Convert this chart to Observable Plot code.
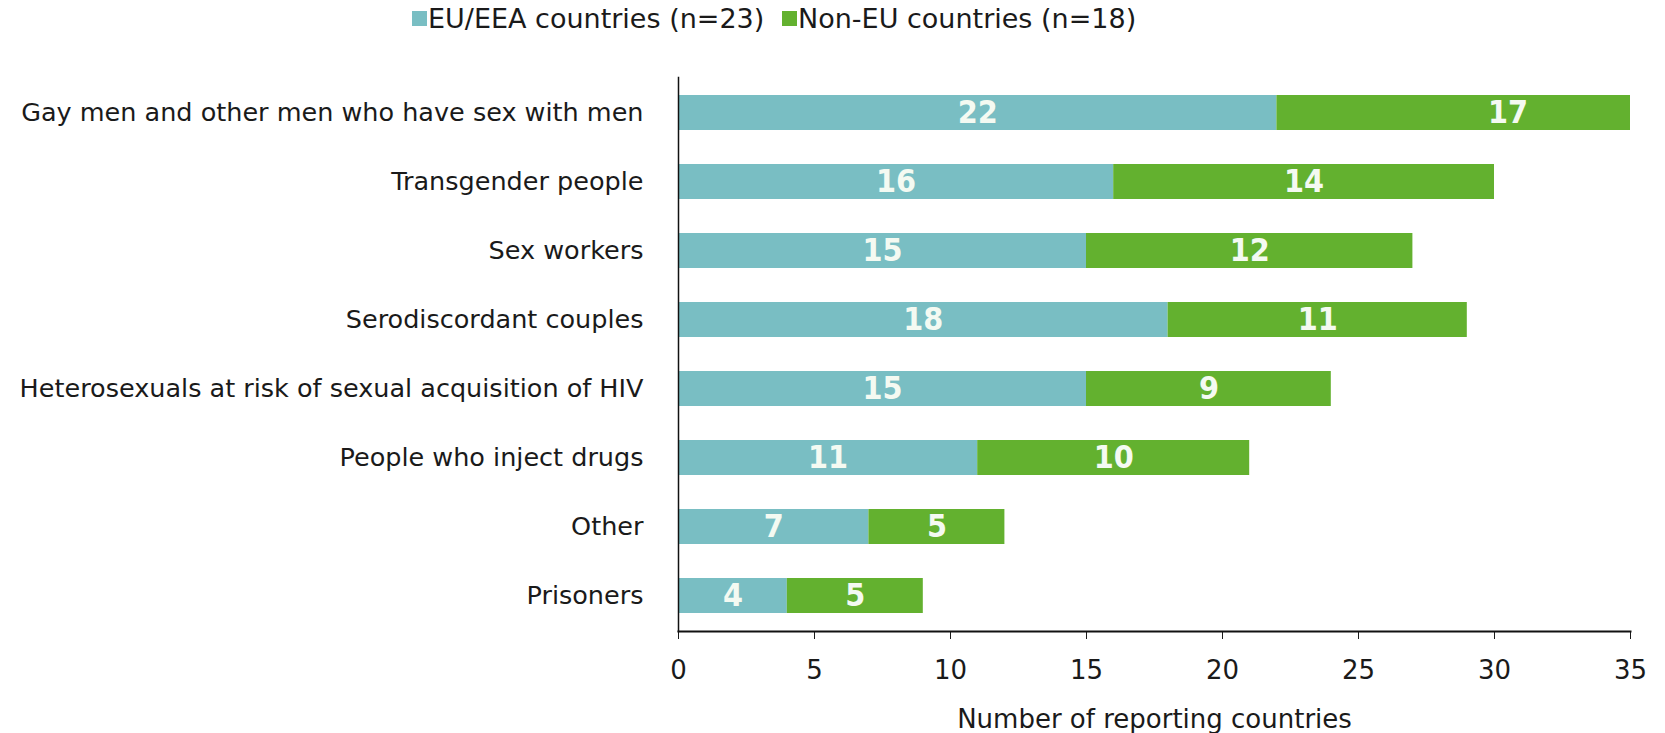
<!DOCTYPE html>
<html><head><meta charset="utf-8">
<script src="https://cdn.jsdelivr.net/npm/d3@7"></script>
<script src="https://cdn.jsdelivr.net/npm/@observablehq/plot@0.6"></script>
<style>
body{margin:0;background:#fff;font-family:"DejaVu Sans",sans-serif;}
#legend{position:relative;height:40px;width:1665px;font-size:27px;color:#1a1a1a;}
.item{position:absolute;top:3px;display:flex;align-items:center;white-space:nowrap;}
.sw{width:15px;height:15px;margin-right:1px;}
</style></head><body>
<div id="legend"></div><div id="chart"></div>
<script>
const categories = ["Gay men and other men who have sex with men","Transgender people","Sex workers","Serodiscordant couples","Heterosexuals at risk of sexual acquisition of HIV","People who inject drugs","Other","Prisoners"];
const euValues = [22,16,15,18,15,11,7,4];
const nonEuValues = [17,14,12,11,9,10,5,5];
const seriesNames = ["EU/EEA countries (n=23)","Non-EU countries (n=18)"];
const seriesColors = ["#79bec3","#63b12f"];
const xTicks = [0,5,10,15,20,25,30,35];
const xLabel = "Number of reporting countries";

const data = categories.flatMap((c,i)=>[
  {category:c, series:seriesNames[0], value:euValues[i]},
  {category:c, series:seriesNames[1], value:nonEuValues[i]}
]);

// legend
const lg = document.getElementById("legend");
const lefts = [412, 782];
seriesNames.forEach((s,i)=>{
  const d = document.createElement("div");
  d.className="item"; d.style.left=lefts[i]+"px";
  d.innerHTML = `<div class="sw" style="background:${seriesColors[i]}"></div><span>${s}</span>`;
  lg.appendChild(d);
});

const chart = Plot.plot({
  width:1665, height:693,
  marginLeft:678, marginRight:35, marginTop:37, marginBottom:102,
  style:{fontFamily:'"DejaVu Sans",sans-serif', fontSize:"25.5px", color:"#1a1a1a", background:"#fff"},
  x:{domain:[0,35]},
  y:{domain:categories, paddingInner:0.5, paddingOuter:0.25},
  color:{domain:seriesNames, range:seriesColors},
  marks:[
    Plot.barX(data, Plot.stackX({x:"value", y:"category", fill:"series", order:seriesNames, clip:true})),
    Plot.text(data, Plot.stackX({x:"value", y:"category", z:"series", order:seriesNames, text:"value", fill:"#f4faf2", fontWeight:"bold", fontSize:32, fontFamily:'"DejaVu Sans Condensed","DejaVu Sans",sans-serif'})),
    Plot.axisY({tickSize:0, tickPadding:35, fontSize:25.5, label:null}),
    Plot.axisX({ticks:xTicks, tickSize:8, tickPadding:21, fontSize:26, label:xLabel, labelAnchor:"center", labelArrow:"none", labelOffset:96}),
    Plot.frame({anchor:"left", stroke:"#111", strokeWidth:1.5}),
    Plot.frame({anchor:"bottom", stroke:"#111", strokeWidth:2})
  ]
});
document.getElementById("chart").appendChild(chart);
</script></body></html>
